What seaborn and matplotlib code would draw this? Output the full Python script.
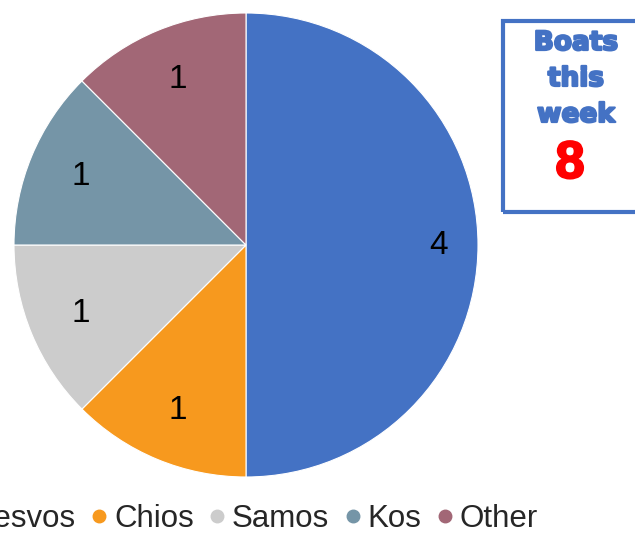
import matplotlib
matplotlib.use("Agg")
import matplotlib.pyplot as plt
import matplotlib.patheffects as pe
import seaborn as sns
import numpy as np
from matplotlib.lines import Line2D
from matplotlib.patches import Rectangle

categories = ["Lesvos", "Chios", "Samos", "Kos", "Other"]
boats = [4, 1, 1, 1, 1]
colors = ["#4472C4", "#F7991E", "#CCCCCC", "#7595A7", "#A26776"]
box_title = "Boats\nthis\nweek"
total_boats = "8"

sns.set_theme(style="white")
plt.rcParams['font.family'] = ['Liberation Sans', 'DejaVu Sans']

W, H = 635, 533
fig = plt.figure(figsize=(W / 100, H / 100), dpi=100)
ax = fig.add_axes([0, 0, 1, 1])

cx, cy, r = 246, H - 245, 232
wedges, texts = ax.pie(boats, colors=colors, startangle=90, counterclock=False,
                       center=(cx, cy), radius=r,
                       wedgeprops=dict(edgecolor="white", linewidth=0.8))
ax.set_xlim(0, W)
ax.set_ylim(0, H)
ax.set_aspect('equal', adjustable='datalim')
ax.axis('off')

for w, v in zip(wedges, boats):
    mid = np.deg2rad((w.theta1 + w.theta2) / 2)
    d = 0.83 if v > 1 else 0.77
    ax.text(cx + d * r * np.cos(mid), cy + d * r * np.sin(mid), str(v),
            ha='center', va='center', fontsize=24, color='black')

handles = [Line2D([0], [0], marker='o', linestyle='', markersize=9,
                  markerfacecolor=c, markeredgecolor=c) for c in colors]
fig.legend(handles, categories, loc='center', ncol=5,
           bbox_to_anchor=(242 / W, 1 - 519 / H), frameon=False,
           fontsize=22.5, handletextpad=-0.03, columnspacing=0.25, handlelength=1.0)

rect = Rectangle((503 / W, 1 - 212 / H), 0.3, (212 - 21) / H,
                 transform=fig.transFigure, fill=False, edgecolor="#4472C4",
                 linewidth=3)
fig.patches.append(rect)
stroke = [pe.withStroke(linewidth=1.6, foreground="#4472C4")]
for i, line in enumerate(box_title.split("\n")):
    fig.text(576 / W, 1 - (43 + 36 * i) / H, line, ha='center', va='center',
             fontsize=19, fontweight='bold', family=['DejaVu Sans'],
             color="#4472C4", path_effects=stroke)
fig.text(570 / W, 1 - 164 / H, total_boats, ha='center', va='center',
         fontsize=38, fontweight='bold', color="#FF0000",
         family=['Liberation Sans', 'DejaVu Sans'],
         path_effects=[pe.withStroke(linewidth=1.5, foreground="#FF0000")])

fig.savefig("out.png", dpi=100)
